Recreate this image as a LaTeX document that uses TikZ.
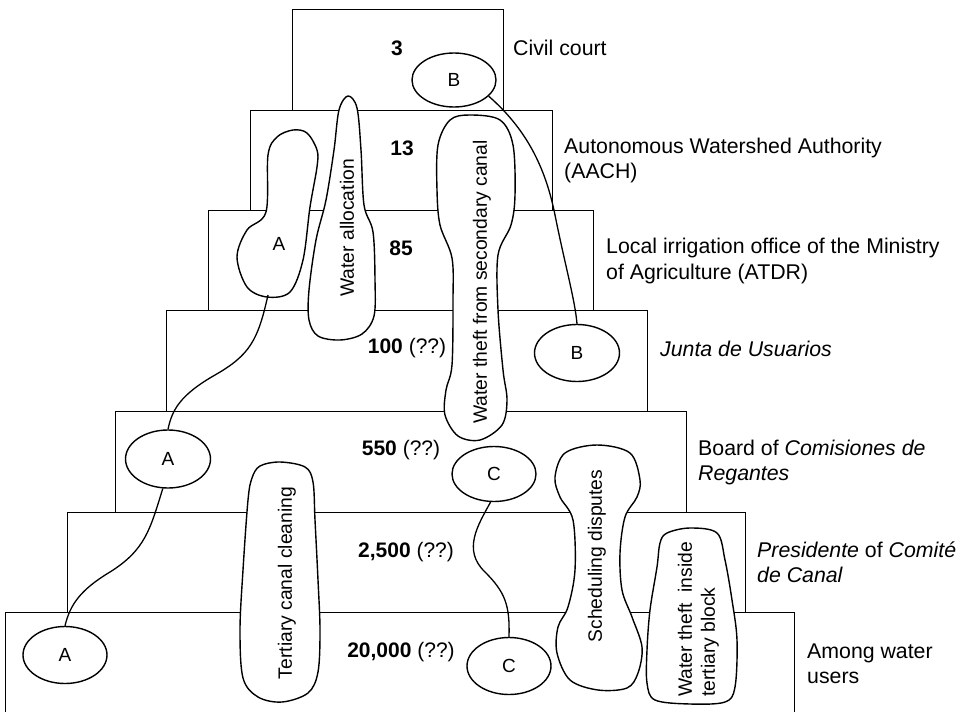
\documentclass[tikz,border=0pt]{standalone}
\usepackage{fontspec}
\setmainfont{Liberation Sans}
\usetikzlibrary{shapes.geometric}
\begin{document}
\begin{tikzpicture}[x=1pt,y=-1pt,
  lvl/.style={line width=0.9pt},
  blob/.style={line width=1.4pt, fill=white},
  ell/.style={ellipse, draw, line width=1.4pt, fill=white, inner sep=0pt,
    minimum width=84pt, minimum height=56pt, font=\fontsize{19}{22}\selectfont},
  conn/.style={line width=1.3pt},
  lbl/.style={anchor=west, align=left, inner sep=0pt, font=\fontsize{21.3}{25.5}\selectfont},
  num/.style={inner sep=0pt, font=\fontsize{21}{25}\selectfont},
  btxt/.style={rotate=90, inner sep=0pt, font=\fontsize{19.3}{23}\selectfont}]
\useasboundingbox (0,0) rectangle (961,712);

% levels
\draw[lvl] (292,9) rectangle (503,110);
\draw[lvl] (250,110) rectangle (552,210);
\draw[lvl] (208,210) rectangle (593,310);
\draw[lvl] (166,310) rectangle (647,411);
\draw[lvl] (115,411) rectangle (686,512);
\draw[lvl] (67,512) rectangle (745,612);
\draw[lvl] (5,712) |- (794,612) -- (794,712);

% numbers
\node[num] (n1) at (397,48) {\bfseries 3};
\node[num] (n2) at (402,148) {\bfseries 13};
\node[num] (n3) at (401,248) {\bfseries 85};
\node[num] (n4) at (407,348) {{\bfseries 100} (??)};
\node[num] (n5) at (401,450) {{\bfseries 550} (??)};
\node[num] (n6) at (406,552) {{\bfseries 2,500} (??)};
\node[num] (n7) at (401,652) {{\bfseries 20,000} (??)};

% labels
\node[lbl] (l1) at (513,48) {Civil court};
\node[lbl] (l2) at (564,160.5) {Autonomous Watershed Authority\\(AACH)};
\node[lbl] (l3) at (606,261) {Local irrigation office of the Ministry\\of Agriculture (ATDR)};
\node[lbl] (l4) at (660,349) {\itshape Junta de Usuarios};
\node[lbl] (l5) at (698,462.5) {Board of \itshape Comisiones de\\\itshape Regantes};
\node[lbl] (l6) at (757,562.5) {\itshape Presidente \upshape of \itshape Comité\\\itshape de Canal};
\node[lbl] (l7) at (807,664) {Among water\\users};

% blobs
\draw[blob] plot[smooth cycle, tension=0.55] coordinates {(348,96) (357,108) (361,150) (364,205) (373,232) (375,280) (374,316) (362,334) (340,340) (318,336) (309,320) (309,290) (316,240) (326,200) (334,150) (339,110)};
\node[btxt] (wa) at (347,228) {Water allocation};

\draw[blob] plot[smooth cycle, tension=0.55] coordinates {(293,130) (307,133) (317,150) (317,167) (310,207) (303,260) (290,292) (267,297) (247,287) (237,257) (247,230) (266,212) (268,155) (277,137)};
\node[font=\fontsize{19}{22}\selectfont, inner sep=0pt] (Ab) at (279,244) {A};
\coordinate (Abot) at (268,295);

\draw[blob] plot[smooth cycle, tension=0.55] coordinates {(470,115) (500,120) (513,145) (515,195) (511,225) (498,255) (498,310) (503,370) (507,400) (502,425) (480,440) (458,436) (445,415) (446,390) (452,365) (453,300) (452,258) (440,225) (437,190) (438,145) (450,120)};
\node[btxt] (wt) at (482,282) {Water theft from secondary canal};

\draw[blob] plot[smooth cycle, tension=0.55] coordinates {(280,462) (305,467) (313,482) (315,520) (318,580) (320,630) (318,672) (308,693) (282,702) (258,697) (243,678) (240,630) (243,570) (248,500) (252,478) (260,466)};
\node[btxt] (tc) at (287,583) {Tertiary canal cleaning};

\draw[blob] plot[smooth cycle, tension=0.55] coordinates {(597,445) (630,453) (640,480) (637,497) (625,517) (620,553) (622,590) (632,617) (642,647) (638,673) (627,688) (598,690) (570,680) (557,653) (558,627) (568,607) (575,570) (573,520) (560,497) (555,477) (565,453)};
\node[btxt] (sd) at (597,556) {Scheduling disputes};

\draw[blob] plot[smooth cycle, tension=0.55] coordinates {(690,528) (717,533) (725,560) (732,600) (737,640) (735,687) (725,702) (690,704) (655,700) (647,683) (647,650) (650,610) (657,567) (660,543) (667,533)};
\node[btxt, anchor=west, align=left, font=\fontsize{19.3}{23}\selectfont] (wi) at (698.5,697) {Water theft~ inside\\tertiary block};

% ellipses
\node[ell, minimum height=54pt] (B1) at (454,80) {B};
\node[ell, minimum width=85pt, minimum height=57pt] (B2) at (577,353) {B};
\node[ell, minimum width=85pt, minimum height=58pt] (A2) at (168,459) {A};
\node[ell, minimum height=57pt] (A3) at (65,655) {A};
\node[ell, minimum height=55pt] (C1) at (494,474) {C};
\node[ell, minimum height=57pt] (C2) at (509,666) {C};

% connectors
\draw[conn] (Abot) .. controls (258,340) and (250,355) .. (215,375) .. controls (180,395) and (172,410) .. (A2.north);
\draw[conn] (A2.260) .. controls (150,530) and (145,550) .. (110,572) .. controls (80,590) and (70,605) .. (A3.north);
\draw[conn] (B1.-25) .. controls (525,128) and (545,165) .. (555,215) .. controls (565,265) and (575,300) .. (B2.north);
\draw[conn] (C1.263) .. controls (478,525) and (462,550) .. (485,572) .. controls (505,592) and (510,605) .. (C2.north);
\end{tikzpicture}
\end{document}
